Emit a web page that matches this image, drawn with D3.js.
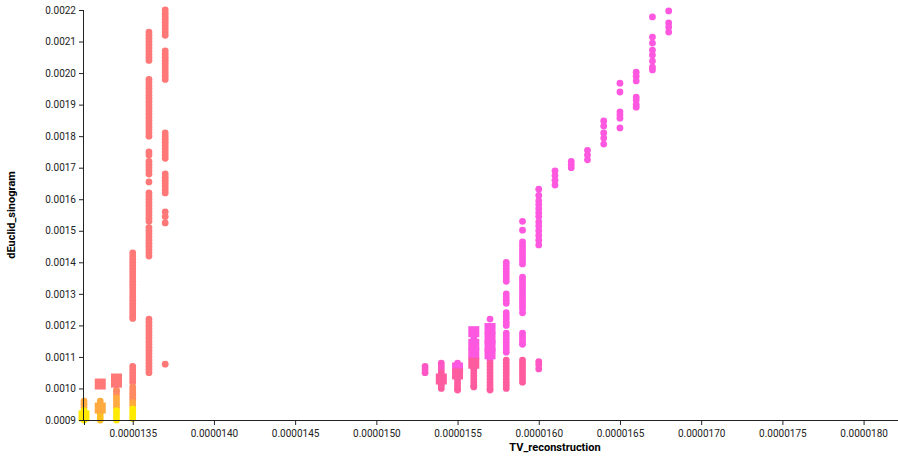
<!DOCTYPE html>
<html><head><meta charset="utf-8">
<script src="https://cdn.jsdelivr.net/npm/d3@7"></script>
<style>
html,body{margin:0;padding:0;background:#fff;}
svg{display:block;overflow:hidden;}
text{font-family:Roboto,"Liberation Sans",sans-serif;}
</style></head>
<body>
<svg id="chart" width="898" height="457"></svg>
<script>
// ---- data (x in units of 1e-6) ----
const xTickValues = [13.2, 13.5, 14.0, 14.5, 15.0, 15.5, 16.0, 16.5, 17.0, 17.5, 18.0];
const yTickValues = [0.0009,0.0010,0.0011,0.0012,0.0013,0.0014,0.0015,0.0016,0.0017,0.0018,0.0019,0.0020,0.0021,0.0022];
const shades = {Y:"#ffea00", OY:"#ffc020", O:"#ffaa40", OS:"#ff8a62", S:"#ff7878", R:"#ff5ca0", P:"#ff56c6", M:"#ff58e0"};

// circle groups: [TV_reconstruction, shade, dEuclid_sinogram values]
const leftCircles = [
  [13.2, "O",  [0.00096,0.00095,0.00094]],
  [13.2, "Y",  [0.00093,0.00092,0.00091,0.0009]],
  [13.3, "O",  [0.00096,0.00095,0.00094,0.00093]],
  [13.3, "OY", [0.00092,0.00091,0.0009]],
  [13.4, "OS", [0.000995,0.00099,0.00098]],
  [13.4, "O",  [0.00097,0.00096,0.00095,0.00094]],
  [13.4, "Y",  [0.00093,0.00092,0.00091,0.0009]],
  [13.5, "S",  [0.00143,0.00142,0.00141,0.0014,0.00139,0.00138,0.00137,0.00136,0.00135,0.00134,0.00133,0.00132,0.00131,0.0013,0.00129,0.00128,0.00127,0.00126,0.00125,0.00124,0.00123,0.001222]],
  [13.5, "S",  [0.00107,0.00106,0.00105,0.00104,0.00103,0.00102]],
  [13.5, "OS", [0.001005,0.000995,0.000985,0.000975,0.000965]],
  [13.5, "O",  [0.000955,0.000945]],
  [13.5, "Y",  [0.000935,0.000925,0.000915,0.000905]],
  [13.6, "S",  [0.00213,0.00212,0.00211,0.0021,0.00209,0.00208,0.00207,0.00206,0.00205,0.00204]],
  [13.6, "S",  [0.00198,0.00197,0.00196,0.00195,0.00194,0.00193,0.00192,0.00191,0.0019,0.00189,0.00188,0.00187,0.00186,0.00185,0.00184,0.00183,0.00182,0.00181,0.0018]],
  [13.6, "S",  [0.00175,0.00174,0.00172,0.00171,0.0017,0.00169,0.00168,0.001655]],
  [13.6, "S",  [0.00162,0.00161,0.0016,0.00159,0.00158,0.00157,0.00156,0.00155,0.00154,0.00153]],
  [13.6, "S",  [0.00151,0.0015,0.00149,0.00148,0.00147,0.00146,0.00145,0.00144,0.00143,0.00142]],
  [13.6, "S",  [0.00122,0.00121,0.0012,0.00119,0.00118,0.00117,0.00116,0.00115,0.00114,0.00113,0.00112,0.00111,0.0011,0.00109,0.00108,0.00107,0.00106,0.00105]],
  [13.7, "S",  [0.0022,0.00219,0.00218,0.00217,0.00216,0.00215,0.00214,0.00213,0.00212]],
  [13.7, "S",  [0.00207,0.00206,0.00205,0.00204,0.00203,0.00202,0.00201,0.002,0.00199,0.00198]],
  [13.7, "S",  [0.00181,0.0018,0.00179,0.00178,0.00177,0.00176,0.00175,0.00174,0.00173]],
  [13.7, "S",  [0.00168,0.00167,0.00166,0.00165,0.00164,0.00163,0.00162]],
  [13.7, "S",  [0.00156,0.001545,0.001525,0.001077]]
];
const rightCircles = [
  [15.3, "P", [0.00107,0.00106,0.00105]],
  [15.4, "P", [0.00108,0.00107,0.00106]],
  [15.4, "R", [0.00105,0.00104,0.00103,0.00102,0.00101,0.001]],
  [15.5, "M", [0.00108,0.00107,0.00106,0.00105]],
  [15.5, "R", [0.00104,0.00103,0.00102,0.00101,0.001,0.000995]],
  [15.6, "M", [0.00116,0.00115,0.00114,0.00113,0.00112,0.00111,0.0011,0.00109]],
  [15.6, "R", [0.00108,0.00107,0.00106,0.00105,0.00104,0.00103,0.00102,0.00101,0.001005]],
  [15.7, "M", [0.00122,0.00118,0.00117,0.00116,0.00115,0.00114,0.00113,0.00112,0.00111,0.0011,0.00109]],
  [15.7, "R", [0.00108,0.00107,0.00106,0.00105,0.00104,0.00103,0.00102,0.00101,0.001,0.000995]],
  [15.8, "M", [0.0014,0.00139,0.00138,0.00137,0.00136,0.00135,0.00134,0.0013,0.00129,0.00128,0.00127,0.00124,0.00123,0.00122,0.00121,0.0012,0.001175,0.001165,0.001155,0.001145,0.001135,0.001125,0.001115]],
  [15.8, "R", [0.00109,0.00108,0.00107,0.00106,0.00105,0.00104,0.00103,0.00102,0.00101,0.001]],
  [15.9, "M", [0.00153,0.001502,0.001465,0.001455,0.001445,0.001435,0.001425,0.001415,0.001405,0.001395,0.001353,0.001343,0.001333,0.001323,0.001313,0.001303,0.001293,0.001283,0.001273,0.001263,0.001253,0.00124,0.001175,0.001165,0.001155,0.001145,0.00114]],
  [15.9, "R", [0.00109,0.00108,0.00107,0.00106,0.00105,0.00104,0.00103,0.00102]],
  [16.0, "M", [0.001632,0.001612,0.001595,0.001583,0.00157,0.001557,0.001545,0.001528,0.001515,0.0015,0.001485,0.00147,0.001455]],
  [16.0, "P", [0.001085,0.001075,0.001062]],
  [16.1, "M", [0.00169,0.001675,0.00166,0.001645]],
  [16.2, "M", [0.00172,0.00171,0.0017]],
  [16.3, "M", [0.001755,0.00174,0.001725]],
  [16.4, "M", [0.001848,0.001832,0.00181,0.001794,0.001775]],
  [16.5, "M", [0.001968,0.00194,0.001877,0.001867,0.001857,0.001826]],
  [16.6, "M", [0.002003,0.00199,0.001975,0.001924,0.001915,0.0019,0.001892]],
  [16.7, "M", [0.002178,0.002114,0.002095,0.002073,0.002057,0.002038,0.002019,0.00201]],
  [16.8, "M", [0.002197,0.002159,0.002146,0.00213]]
];
// square marks: [TV_reconstruction, shade, dEuclid_sinogram]
const squareMarks = [
  [13.2, "Y", 0.000913],
  [13.3, "O", 0.000938],
  [13.3, "S", 0.001014],
  [13.4, "S", 0.00102],
  [13.4, "S", 0.00103],
  [15.4, "R", 0.00103],
  [15.5, "M", 0.001065],
  [15.5, "R", 0.001046],
  [15.6, "M", 0.00118],
  [15.6, "M", 0.00114],
  [15.6, "M", 0.00111],
  [15.6, "R", 0.00108],
  [15.7, "M", 0.00119],
  [15.7, "M", 0.00116],
  [15.7, "M", 0.001135],
  [15.7, "M", 0.00111]
];

// ---- drawing ----
const svg = d3.select("#chart");
const x = d3.scaleLinear().domain([13.2, 19.0]).range([84, 1026]);
const y = d3.scaleLinear().domain([0.0009, 0.0022]).range([420, 10]);

const pts = [];
for (const [tv, sh, ys] of leftCircles.concat(rightCircles)) for (const v of ys) pts.push({tv, sh, v});

svg.append("g").selectAll("circle").data(pts).join("circle")
  .attr("cx", d => x(d.tv)).attr("cy", d => y(d.v)).attr("r", 3.4)
  .attr("fill", d => shades[d.sh]);

const side = 11;
svg.append("g").selectAll("rect").data(squareMarks).join("rect")
  .attr("x", d => x(d[0]) - side/2).attr("y", d => y(d[2]) - side/2)
  .attr("width", side).attr("height", side)
  .attr("fill", d => shades[d[1]]);

// axes
const xAxis = d3.axisBottom(x).tickValues(xTickValues).tickSize(5).tickPadding(5)
  .tickFormat(d => d === 13.2 ? "" : d3.format(".7f")(d * 1e-6));
const gx = svg.append("g").attr("transform", "translate(0,420)").call(xAxis);
const yAxis = d3.axisLeft(y).tickValues(yTickValues).tickSize(5).tickPadding(3)
  .tickFormat(d3.format(".4f"));
const gy = svg.append("g").attr("transform", "translate(84,0)").call(yAxis);
for (const g of [gx, gy]) {
  g.select(".domain").attr("stroke", "#222").attr("d", null);
  g.selectAll(".tick line").attr("stroke", "#222");
  g.selectAll("text").attr("font-size", 10).attr("fill", "#222").attr("font-family", "Roboto, sans-serif");
}
gx.select(".domain").attr("d", "M84,0.5H1026");
gy.select(".domain").attr("d", "M-0.5,10V420");

svg.append("text").attr("x", 555).attr("y", 451).attr("text-anchor", "middle")
  .attr("font-size", 11).attr("font-weight", "bold").attr("fill", "#000").text("TV_reconstruction");
svg.append("text").attr("transform", "translate(15,215) rotate(-90)").attr("text-anchor", "middle")
  .attr("font-size", 11).attr("font-weight", "bold").attr("fill", "#000").text("dEuclid_sinogram");
</script>
</body></html>
